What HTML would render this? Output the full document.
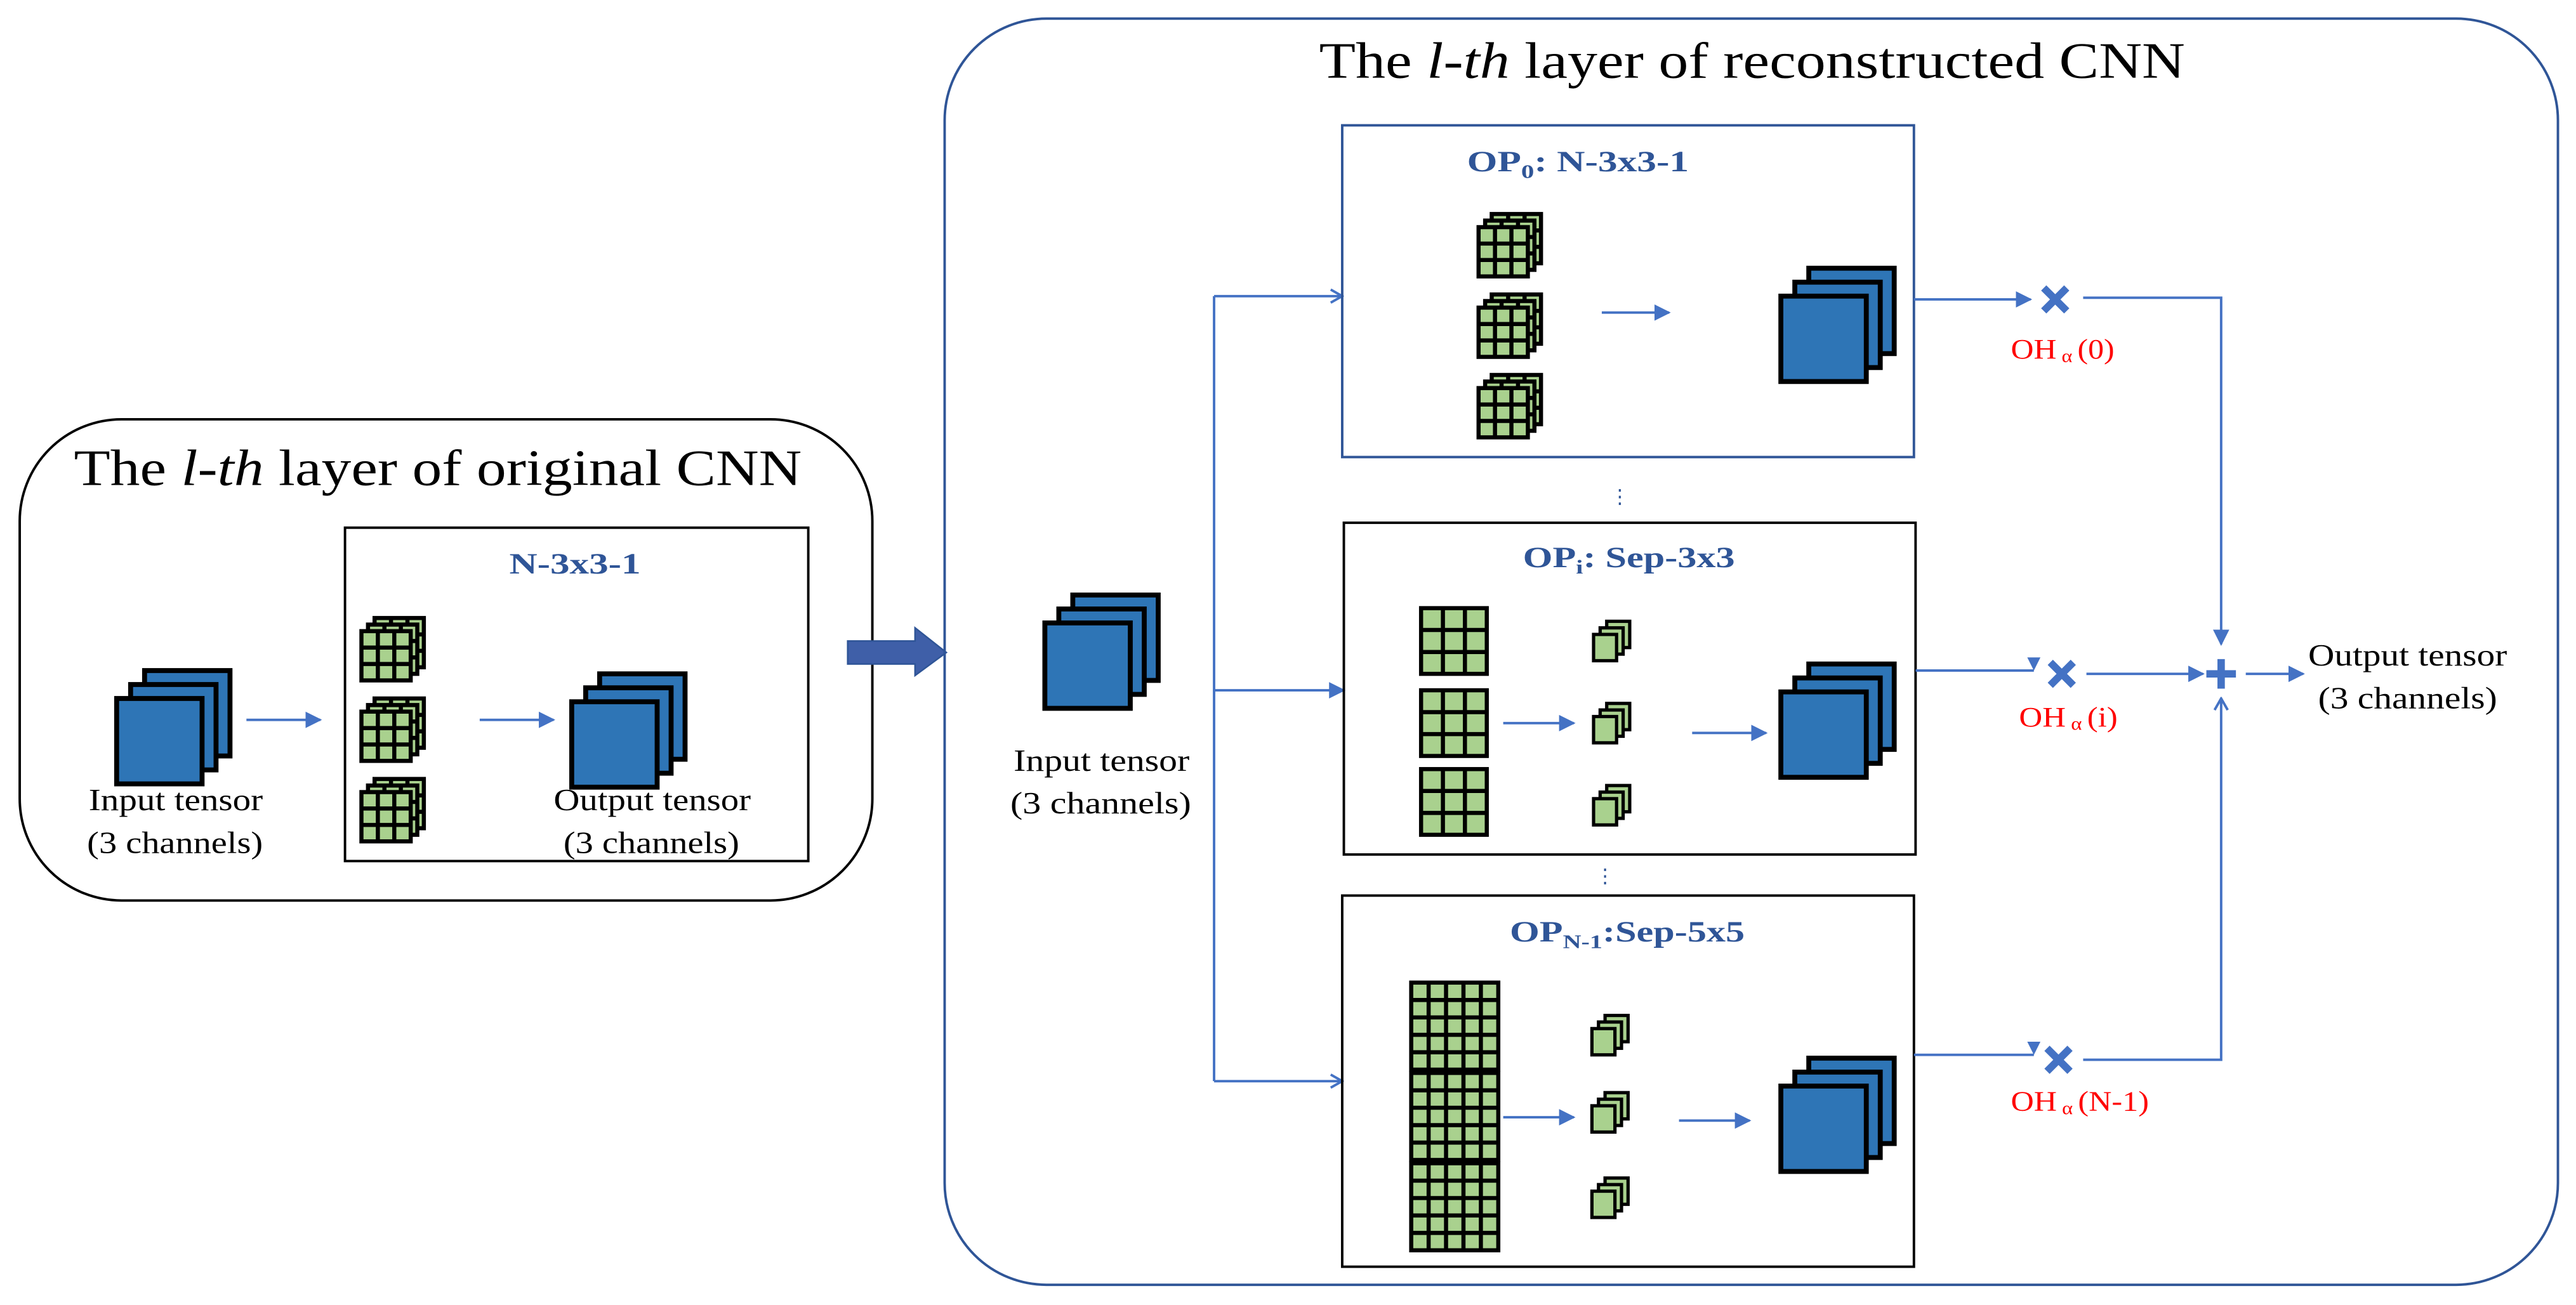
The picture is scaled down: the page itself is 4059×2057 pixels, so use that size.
<!DOCTYPE html>
<html><head><meta charset="utf-8"><style>html,body{margin:0;padding:0;background:#fff}svg{display:block}</style></head>
<body>
<svg width="4059" height="2057" viewBox="0 0 1568 794" xmlns="http://www.w3.org/2000/svg" font-family="Liberation Serif, serif">
<defs>
<marker id="a" markerWidth="10" markerHeight="10" refX="9" refY="5" orient="auto" markerUnits="userSpaceOnUse"><path d="M0,0 L10,5 L0,10 Z" fill="#4472C4"/></marker>
<marker id="o" markerWidth="10" markerHeight="10" refX="9" refY="5" orient="auto" markerUnits="userSpaceOnUse"><path d="M2,1 L9,5 L2,9" fill="none" stroke="#4472C4" stroke-width="1.5"/></marker>
<g id="T">
<rect x="17" y="-17" width="52" height="52" fill="#2E75B6" stroke="#000" stroke-width="3"/>
<rect x="8.5" y="-8.5" width="52" height="52" fill="#2E75B6" stroke="#000" stroke-width="3"/>
<rect x="0" y="0" width="52" height="52" fill="#2E75B6" stroke="#000" stroke-width="3"/>
</g>
<g id="G3"><rect x="0" y="0" width="30" height="30" fill="#A9D18E" stroke="#000" stroke-width="2.5"/><path d="M10,0V30M20,0V30M0,10H30M0,20H30" stroke="#000" stroke-width="2.5"/></g>
<g id="K"><use href="#G3" x="8" y="-8"/><use href="#G3" x="4" y="-4"/><use href="#G3" x="0" y="0"/></g>
<g id="B3"><rect x="0" y="0" width="40" height="40" fill="#A9D18E" stroke="#000" stroke-width="2.5"/><path d="M13.3,0V40M26.7,0V40M0,13.3H40M0,26.7H40" stroke="#000" stroke-width="2.5"/></g>
<g id="B5"><rect x="0" y="0" width="53" height="53" fill="#A9D18E" stroke="#000" stroke-width="2.5"/><path d="M10.6,0V53M21.2,0V53M31.8,0V53M42.4,0V53M0,10.6H53M0,21.2H53M0,31.8H53M0,42.4H53" stroke="#000" stroke-width="2.5"/></g>
<g id="S"><rect x="8" y="-8" width="14" height="16" fill="#A9D18E" stroke="#000" stroke-width="2"/><rect x="4" y="-4" width="14" height="16" fill="#A9D18E" stroke="#000" stroke-width="2"/><rect x="0" y="0" width="14" height="16" fill="#A9D18E" stroke="#000" stroke-width="2"/></g>
<g id="X"><path d="M-7,-7L7,7M7,-7L-7,7" stroke="#4472C4" stroke-width="4.5"/></g>
</defs>

<!-- Left panel -->
<rect x="12" y="255" width="519" height="293" rx="62" fill="none" stroke="#000" stroke-width="1.5"/>
<text x="45" y="295" font-size="31" textLength="443" lengthAdjust="spacingAndGlyphs">The <tspan font-style="italic">l-th</tspan> layer of original CNN</text>
<rect x="210" y="321" width="282" height="203" fill="none" stroke="#000" stroke-width="1.5"/>
<text x="310" y="349" font-size="18" fill="#2F5597" font-weight="bold" textLength="80" lengthAdjust="spacingAndGlyphs">N-3x3-1</text>
<use href="#T" x="71" y="425"/>
<text x="54" y="493" font-size="19" textLength="106" lengthAdjust="spacingAndGlyphs">Input tensor</text>
<text x="53" y="519" font-size="19" textLength="107" lengthAdjust="spacingAndGlyphs">(3 channels)</text>
<line x1="150" y1="438" x2="195" y2="438" stroke="#4472C4" stroke-width="1.5" marker-end="url(#a)"/>
<use href="#K" x="220" y="384"/><use href="#K" x="220" y="433"/><use href="#K" x="220" y="482"/>
<line x1="292" y1="438" x2="337" y2="438" stroke="#4472C4" stroke-width="1.5" marker-end="url(#a)"/>
<use href="#T" x="348" y="427"/>
<text x="337" y="493" font-size="19" textLength="120" lengthAdjust="spacingAndGlyphs">Output tensor</text>
<text x="343" y="519" font-size="19" textLength="107" lengthAdjust="spacingAndGlyphs">(3 channels)</text>

<!-- big arrow -->
<path d="M516,390 H557 V382 L576,397 L557,411 V404 H516 Z" fill="#3F5FA8" stroke="#2F5597" stroke-width="1"/>

<!-- Right panel -->
<rect x="575" y="11" width="982" height="771" rx="62" fill="none" stroke="#2F5597" stroke-width="1.5"/>
<text x="803" y="47" font-size="31" textLength="527" lengthAdjust="spacingAndGlyphs">The <tspan font-style="italic">l-th</tspan> layer of reconstructed CNN</text>

<use href="#T" x="636" y="379"/>
<text x="617" y="469" font-size="19" textLength="107" lengthAdjust="spacingAndGlyphs">Input tensor</text>
<text x="615" y="495" font-size="19" textLength="110" lengthAdjust="spacingAndGlyphs">(3 channels)</text>
<path d="M739,180 V658" stroke="#4472C4" stroke-width="1.5" fill="none"/>
<line x1="739" y1="180" x2="817" y2="180" stroke="#4472C4" stroke-width="1.5" marker-end="url(#o)"/>
<line x1="739" y1="420" x2="818" y2="420" stroke="#4472C4" stroke-width="1.5" marker-end="url(#a)"/>
<line x1="739" y1="658" x2="817" y2="658" stroke="#4472C4" stroke-width="1.5" marker-end="url(#o)"/>

<!-- OP0 -->
<rect x="817" y="76" width="348" height="202" fill="none" stroke="#2F5597" stroke-width="1.5"/>
<text x="893" y="104" font-size="18" fill="#2F5597" font-weight="bold" textLength="135" lengthAdjust="spacingAndGlyphs">OP<tspan font-size="12" dy="4">0</tspan><tspan dy="-4">: N-3x3-1</tspan></text>
<use href="#K" x="900" y="138"/><use href="#K" x="900" y="187"/><use href="#K" x="900" y="236"/>
<line x1="975" y1="190" x2="1016" y2="190" stroke="#4472C4" stroke-width="1.5" marker-end="url(#a)"/>
<use href="#T" x="1084" y="180"/>
<text x="986" y="306" font-size="12" fill="#2F5597" text-anchor="middle">⋮</text>

<!-- OPi -->
<rect x="818" y="318" width="348" height="202" fill="none" stroke="#000" stroke-width="1.5"/>
<text x="927" y="345" font-size="18" fill="#2F5597" font-weight="bold" textLength="129" lengthAdjust="spacingAndGlyphs">OP<tspan font-size="12" dy="4">i</tspan><tspan dy="-4">: Sep-3x3</tspan></text>
<use href="#B3" x="865" y="370"/><use href="#B3" x="865" y="420"/><use href="#B3" x="865" y="468"/>
<use href="#S" x="970" y="386"/><use href="#S" x="970" y="436"/><use href="#S" x="970" y="486"/>
<line x1="915" y1="440" x2="958" y2="440" stroke="#4472C4" stroke-width="1.5" marker-end="url(#a)"/>
<line x1="1030" y1="446" x2="1075" y2="446" stroke="#4472C4" stroke-width="1.5" marker-end="url(#a)"/>
<use href="#T" x="1084" y="421"/>
<text x="977" y="537" font-size="12" fill="#2F5597" text-anchor="middle">⋮</text>

<!-- OPN-1 -->
<rect x="817" y="545" width="348" height="226" fill="none" stroke="#000" stroke-width="1.5"/>
<text x="919" y="573" font-size="18" fill="#2F5597" font-weight="bold" textLength="143" lengthAdjust="spacingAndGlyphs">OP<tspan font-size="12" dy="4">N-1</tspan><tspan dy="-4">:Sep-5x5</tspan></text>
<use href="#B5" x="859" y="598"/><use href="#B5" x="859" y="653"/><use href="#B5" x="859" y="708"/>
<use href="#S" x="969" y="626"/><use href="#S" x="969" y="673"/><use href="#S" x="969" y="725"/>
<line x1="915" y1="680" x2="958" y2="680" stroke="#4472C4" stroke-width="1.5" marker-end="url(#a)"/>
<line x1="1022" y1="682" x2="1065" y2="682" stroke="#4472C4" stroke-width="1.5" marker-end="url(#a)"/>
<use href="#T" x="1084" y="661"/>

<!-- right side connectors -->
<line x1="1165" y1="182" x2="1236" y2="182" stroke="#4472C4" stroke-width="1.5" marker-end="url(#a)"/>
<use href="#X" x="1251" y="182"/>
<path d="M1268,181 H1352 V392" stroke="#4472C4" stroke-width="1.5" fill="none" marker-end="url(#a)"/>
<text x="1224" y="218" font-size="17" fill="#FF0000" textLength="63" lengthAdjust="spacingAndGlyphs">OH<tspan font-size="11" dy="2"> α </tspan><tspan dy="-2">(0)</tspan></text>

<path d="M1166,408 H1238" stroke="#4472C4" stroke-width="1.5" fill="none"/>
<path d="M1234,400 L1242,400 L1238,408 Z" fill="#4472C4"/>
<use href="#X" x="1255" y="410"/>
<line x1="1270" y1="410" x2="1341" y2="410" stroke="#4472C4" stroke-width="1.5" marker-end="url(#a)"/>
<text x="1229" y="442" font-size="17" fill="#FF0000" textLength="60" lengthAdjust="spacingAndGlyphs">OH<tspan font-size="11" dy="2"> α </tspan><tspan dy="-2">(i)</tspan></text>

<path d="M1165,642 H1238" stroke="#4472C4" stroke-width="1.5" fill="none"/>
<path d="M1234,634 L1242,634 L1238,642 Z" fill="#4472C4"/>
<use href="#X" x="1253" y="645"/>
<path d="M1268,645 H1352 V425" stroke="#4472C4" stroke-width="1.5" fill="none" marker-end="url(#o)"/>
<text x="1224" y="676" font-size="17" fill="#FF0000" textLength="84" lengthAdjust="spacingAndGlyphs">OH<tspan font-size="11" dy="2"> α </tspan><tspan dy="-2">(N-1)</tspan></text>

<path d="M1352,401 V419 M1343,410 H1361" stroke="#4472C4" stroke-width="4.5"/>
<line x1="1367" y1="410" x2="1402" y2="410" stroke="#4472C4" stroke-width="1.5" marker-end="url(#a)"/>
<text x="1405" y="405" font-size="19" textLength="121" lengthAdjust="spacingAndGlyphs">Output tensor</text>
<text x="1411" y="431" font-size="19" textLength="109" lengthAdjust="spacingAndGlyphs">(3 channels)</text>
</svg>
</body></html>
